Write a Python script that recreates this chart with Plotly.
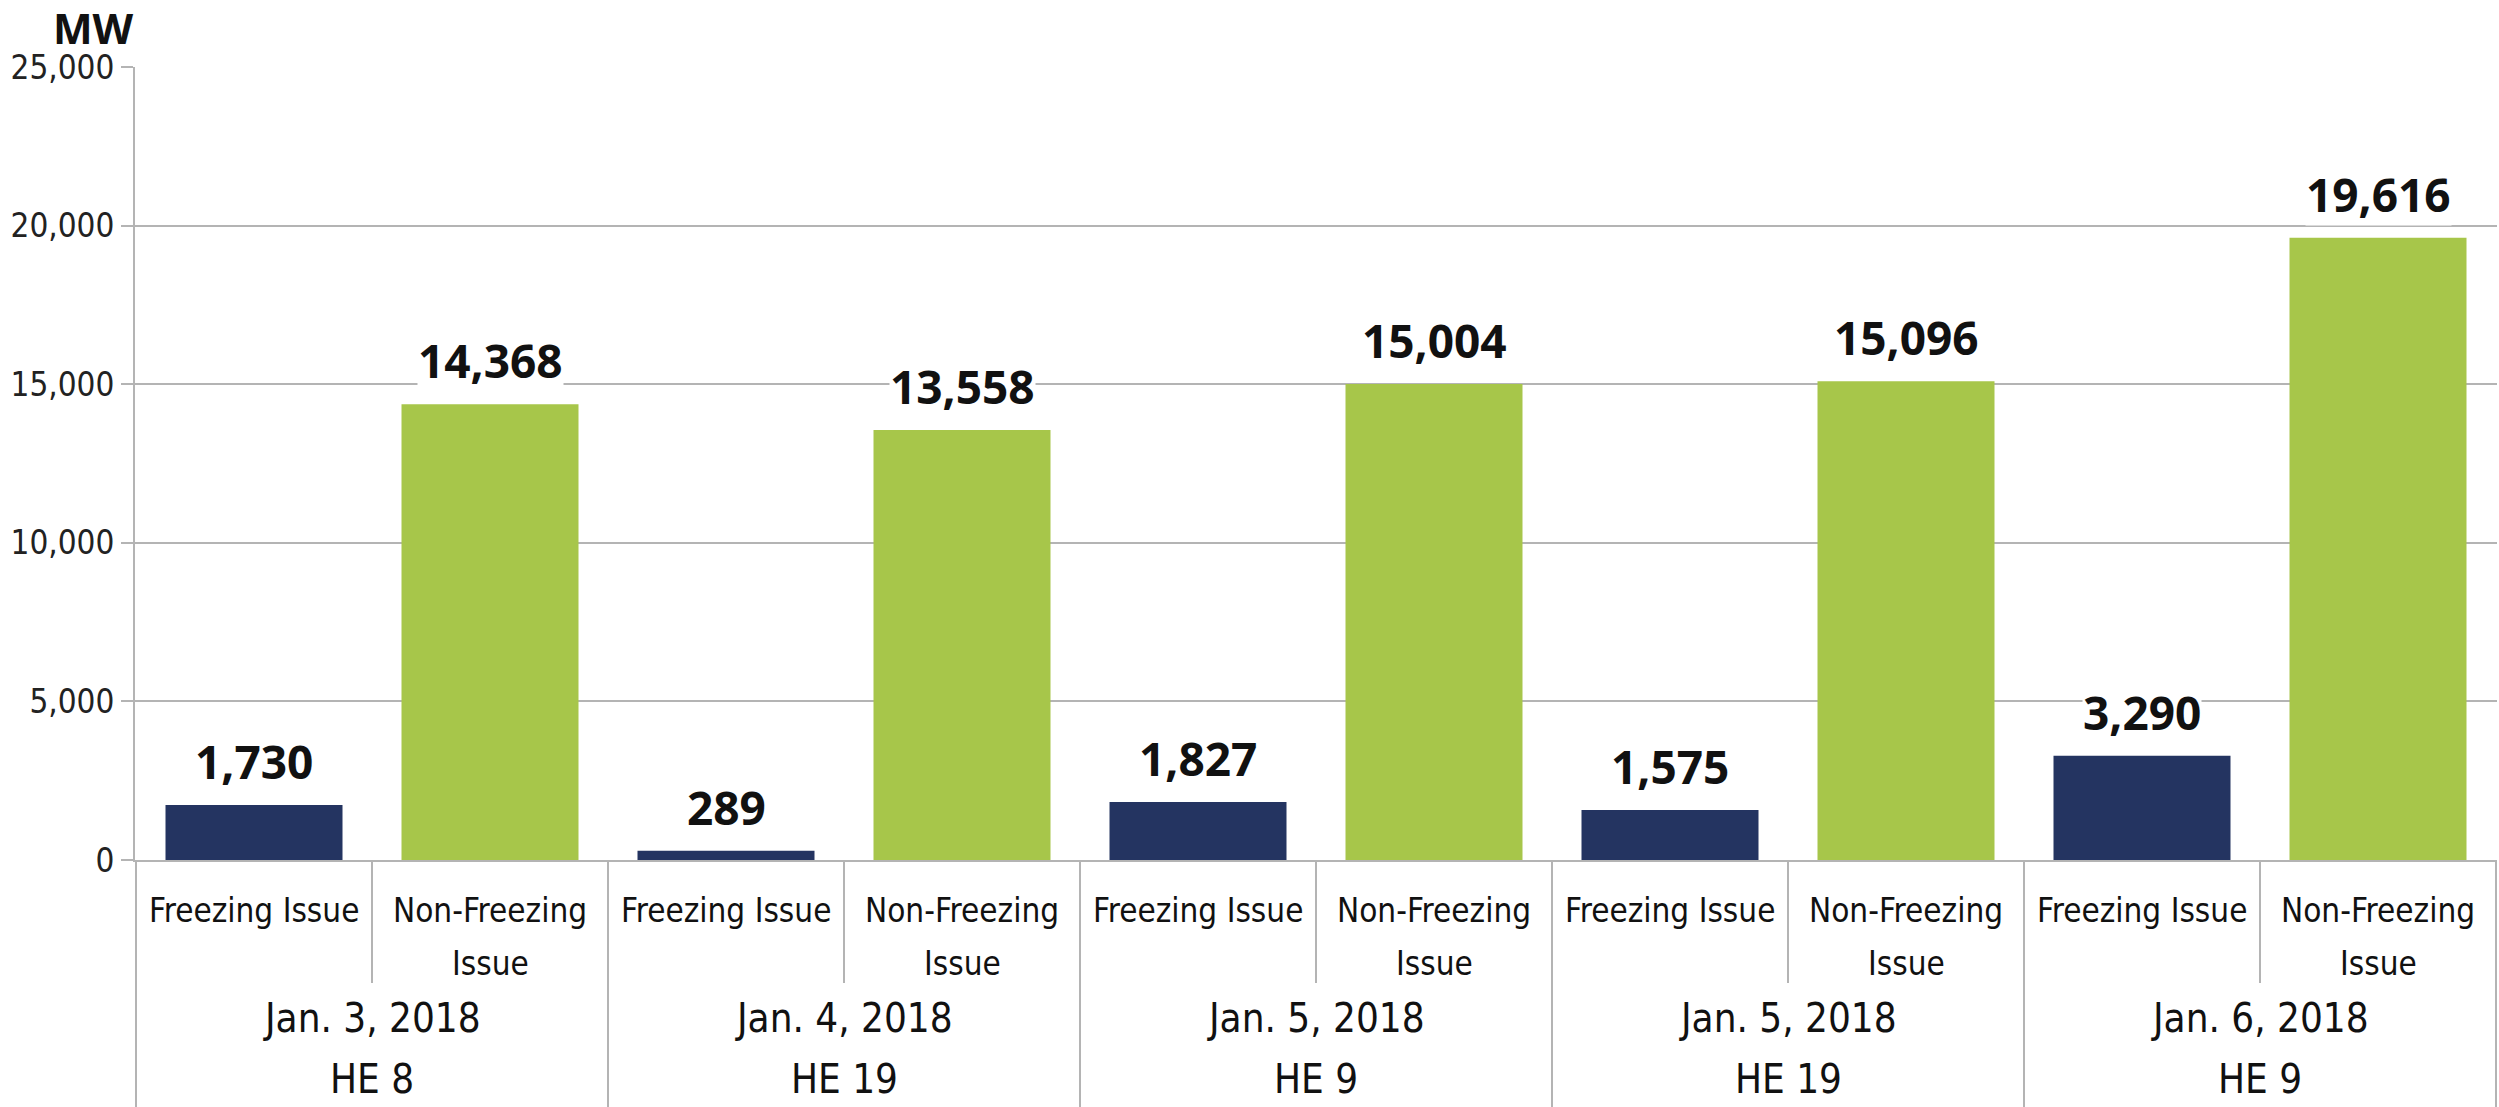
import plotly.graph_objects as go

# ---- data ----
dates = ["Jan. 3, 2018<br>HE 8", "Jan. 4, 2018<br>HE 19", "Jan. 5, 2018<br>HE 9",
         "Jan. 5, 2018<br>HE 19", "Jan. 6, 2018<br>HE 9"]
issue_types = ["Freezing Issue", "Non-Freezing<br>Issue"]
freezing_mw = [1730, 289, 1827, 1575, 3290]
non_freezing_mw = [14368, 13558, 15004, 15096, 19616]
y_ticks = [0, 5000, 10000, 15000, 20000, 25000]

NAVY = "#243461"
GREEN = "#a7c64a"
GRID = "#b4b4b4"
NARROW = "Liberation Sans Narrow, DejaVu Sans Condensed, sans-serif"
BOLD = "Open Sans, Montserrat, sans-serif"

# page geometry (body margin removed below, so figure pixels == screen pixels)
W, H = 2499, 1107
AXIS_X, RIGHT_X, TOP_Y, AXIS_Y = 135, 2497, 67, 860
M_L, M_T = AXIS_X, TOP_Y
M_R, M_B = W - RIGHT_X, H - AXIS_Y
PLOT_H = AXIS_Y - TOP_Y
PLOT_W = RIGHT_X - AXIS_X


def paper_y_for_baseline(px, size):
    """paper y of an annotation bottom so that its text baseline sits at pixel row px"""
    return (AXIS_Y - (px + 0.236 * size + 2)) / PLOT_H


# build multicategory arrays
lvl1, lvl2, vals, cols = [], [], [], []
for d, f, n in zip(dates, freezing_mw, non_freezing_mw):
    for t, v, c in zip(issue_types, (f, n), (NAVY, GREEN)):
        lvl1.append(d)
        lvl2.append(t)
        vals.append(v)
        cols.append(c)

fig = go.Figure()
fig.add_trace(go.Bar(x=[lvl1, lvl2], y=vals, marker=dict(color=cols, line=dict(width=0)),
                     showlegend=False, hoverinfo="skip"))

# value labels above bars
for a, b, v in zip(lvl1, lvl2, vals):
    fig.add_annotation(x=[a, b], y=v, xref="x", yref="y", text=f"{v:,}",
                       showarrow=False, yanchor="bottom", yshift=12,
                       bgcolor="white", borderpad=0,
                       font=dict(family=BOLD, size=46, color="#111111", weight="bold"))

# inner category labels (one annotation per text line)
INNER_SIZE = 33
INNER_BASE = [922, 975]
for a, b in zip(lvl1, lvl2):
    for k, line in enumerate(b.split("<br>")):
        fig.add_annotation(x=[a, b], xref="x", yref="paper",
                           y=paper_y_for_baseline(INNER_BASE[k], INNER_SIZE),
                           text=line, showarrow=False, xanchor="center", yanchor="bottom",
                           font=dict(family=NARROW, size=INNER_SIZE, color="#111111"))

# group labels + dividers
GROUP_SIZE = 40
GROUP_BASE = [1032, 1093]
n_in = len(issue_types)
for g, d in enumerate(dates):
    centre = g * n_in + (n_in - 1) / 2
    for k, line in enumerate(d.split("<br>")):
        fig.add_annotation(x=centre, xref="x", yref="paper",
                           y=paper_y_for_baseline(GROUP_BASE[k], GROUP_SIZE),
                           text=line, showarrow=False, xanchor="center", yanchor="bottom",
                           font=dict(family=NARROW, size=GROUP_SIZE, color="#111111"))
    # inner divider
    xi = g * n_in + 0.5
    fig.add_shape(type="line", xref="x", yref="paper", x0=xi, x1=xi, y0=0,
                  y1=-(983 - AXIS_Y) / PLOT_H, line=dict(color=GRID, width=2), layer="below")
    # outer dividers
    for xo in ([g * n_in - 0.5] + ([g * n_in + n_in - 0.5] if g == len(dates) - 1 else [])):
        fig.add_shape(type="line", xref="x", yref="paper", x0=xo, x1=xo, y0=0,
                      y1=-(H - AXIS_Y) / PLOT_H, line=dict(color=GRID, width=2),
                      layer="below")

fig.add_annotation(xref="paper", yref="paper", x=(93 - AXIS_X) / PLOT_W,
                   y=(AXIS_Y - 28) / PLOT_H, text="MW",
                   showarrow=False, xanchor="center", yanchor="middle",
                   font=dict(family=BOLD, size=42, color="#111111", weight="bold"))

fig.update_layout(
    width=W, height=H,
    margin=dict(l=M_L, r=M_R, t=M_T, b=M_B, autoexpand=False),
    paper_bgcolor="white", plot_bgcolor="white",
    bargap=0.25,
    xaxis=dict(type="multicategory", showline=True, linecolor=GRID, linewidth=2,
               showdividers=False, showticklabels=False, automargin=False,
               ticks="", showgrid=False),
    yaxis=dict(range=[0, 25000], tickvals=y_ticks, tickformat=",", automargin=False,
               showgrid=True, gridcolor=GRID, gridwidth=2,
               showline=True, linecolor=GRID, linewidth=2,
               ticks="outside", ticklen=12, tickcolor=GRID, tickwidth=2,
               zeroline=False,
               tickfont=dict(family=NARROW, size=33, color="#222222")),
)

fig.write_html("out.html", config={"displayModeBar": False},
               post_script="document.body.style.margin='0';document.body.style.overflow='hidden';")
